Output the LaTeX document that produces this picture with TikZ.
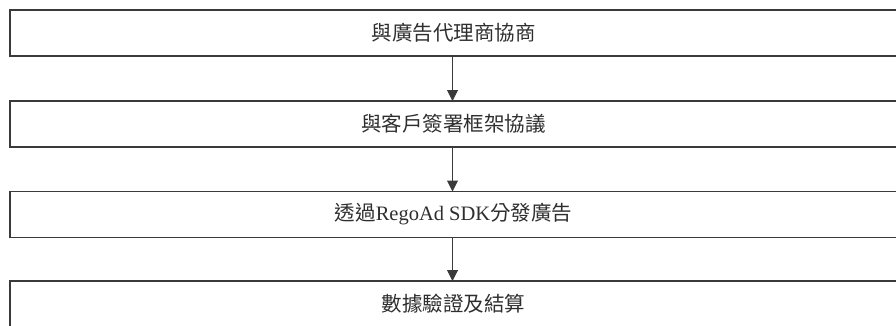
\documentclass[tikz,border=0pt]{standalone}
\usepackage{fontspec}
\setmainfont{Liberation Serif}
\newfontfamily\cjk{Noto Sans CJK TC}
\usetikzlibrary{arrows.meta}
\definecolor{linec}{HTML}{3A3A3A}
\definecolor{textc}{HTML}{2E2E2E}
\begin{document}
\begin{tikzpicture}[x=1pt,y=-1pt,
  stepbox/.style={draw=linec, line width=1.3pt, minimum width=887pt, minimum height=46pt,
    inner sep=0pt, outer sep=0pt, font=\fontsize{20.5}{24}\selectfont, text=textc},
  flow/.style={draw=linec, line width=1pt, -{Triangle[length=11pt,width=11pt]}}]
\useasboundingbox (0,0) rectangle (896,325);
\node[stepbox] (s1) at (453.5,33) {\cjk 與廣告代理商協商};
\node[stepbox] (s2) at (453.5,124) {\cjk 與客戶簽署框架協議};
\node[stepbox] (s3) at (453.5,214.5) {{\cjk 透過}RegoAd SDK{\cjk 分發廣告}};
\node[stepbox] (s4) at (453.5,304) {\cjk 數據驗證及結算};
\draw[flow] (s1.south -| 452.5,0) -- (s2.north -| 452.5,0);
\draw[flow] (s2.south -| 452.5,0) -- (s3.north -| 452.5,0);
\draw[flow] (s3.south -| 452.5,0) -- (s4.north -| 452.5,0);
\end{tikzpicture}
\end{document}
